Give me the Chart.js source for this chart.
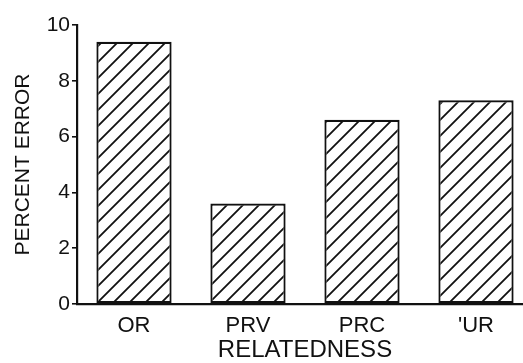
<!DOCTYPE html>
<html>
<head>
<meta charset="utf-8">
<script src="https://cdn.jsdelivr.net/npm/chart.js@4/dist/chart.umd.min.js"></script>
<style>
  html, body { margin: 0; padding: 0; background: #fff; overflow: hidden; }
  #wrap { position: relative; width: 523px; height: 363px; overflow: hidden; }
  canvas { display: block; }
</style>
</head>
<body>
<div id="wrap"><canvas id="c" width="560" height="363"></canvas></div>
<script>
// Percent error by relatedness condition
const categories = ['OR', 'PRV', 'PRC', "'UR"];
const percentError = [9.4, 3.6, 6.6, 7.3];
const yTickValues = [0, 2, 4, 6, 8, 10];

const FONT = '"Liberation Sans", Arial, Helvetica, sans-serif';
const INK = '#111';

// Diagonal hatch fill for the bars
function makeHatch() {
  const s = 16;
  const t = document.createElement('canvas');
  t.width = s; t.height = s;
  const g = t.getContext('2d');
  g.fillStyle = '#fff';
  g.fillRect(0, 0, s, s);
  g.strokeStyle = INK;
  g.lineWidth = 1.8;
  g.beginPath();
  g.moveTo(-2, s + 2); g.lineTo(s + 2, -2);
  g.moveTo(-2, 2); g.lineTo(2, -2);
  g.moveTo(s - 2, s + 2); g.lineTo(s + 2, s - 2);
  g.stroke();
  return g.createPattern(t, 'repeat');
}

const ctx = document.getElementById('c').getContext('2d');
const hatch = makeHatch();

new Chart(ctx, {
  type: 'bar',
  data: {
    labels: categories,
    datasets: [{
      data: percentError,
      backgroundColor: hatch,
      borderColor: INK,
      borderWidth: 2.2,
      borderSkipped: false,
      categoryPercentage: 1.0,
      barPercentage: 0.66
    }]
  },
  options: {
    responsive: false,
    animation: false,
    devicePixelRatio: 1,
    layout: { padding: { top: 25, right: 27, bottom: 0, left: 0 } },
    plugins: { legend: { display: false }, tooltip: { enabled: false } },
    scales: {
      x: {
        grid: { display: false, drawTicks: false },
        border: { display: true, color: INK, width: 2.2 },
        ticks: {
          color: INK,
          font: { family: FONT, size: 22 },
          padding: 9,
          maxRotation: 0
        },
        title: {
          display: true,
          text: 'RELATEDNESS',
          color: INK,
          font: { family: FONT, size: 24 },
          padding: { top: 0, bottom: -2 }
        },
        afterFit(scale) { scale.height = 59; }
      },
      y: {
        min: 0,
        max: 10,
        afterBuildTicks(scale) {
          scale.ticks = yTickValues.map(v => ({ value: v }));
        },
        grid: {
          drawOnChartArea: false,
          drawTicks: true,
          tickLength: 5,
          color: INK,
          lineWidth: 1.6
        },
        border: { display: true, color: INK, width: 2.2 },
        ticks: {
          color: INK,
          font: { family: FONT, size: 21 },
          padding: 2
        },
        title: {
          display: true,
          text: 'PERCENT ERROR',
          color: INK,
          font: { family: FONT, size: 21 },
          padding: { top: 11, bottom: 0 }
        },
        afterFit(scale) { scale.width = 77; }
      }
    }
  }
});
</script>
</body>
</html>
